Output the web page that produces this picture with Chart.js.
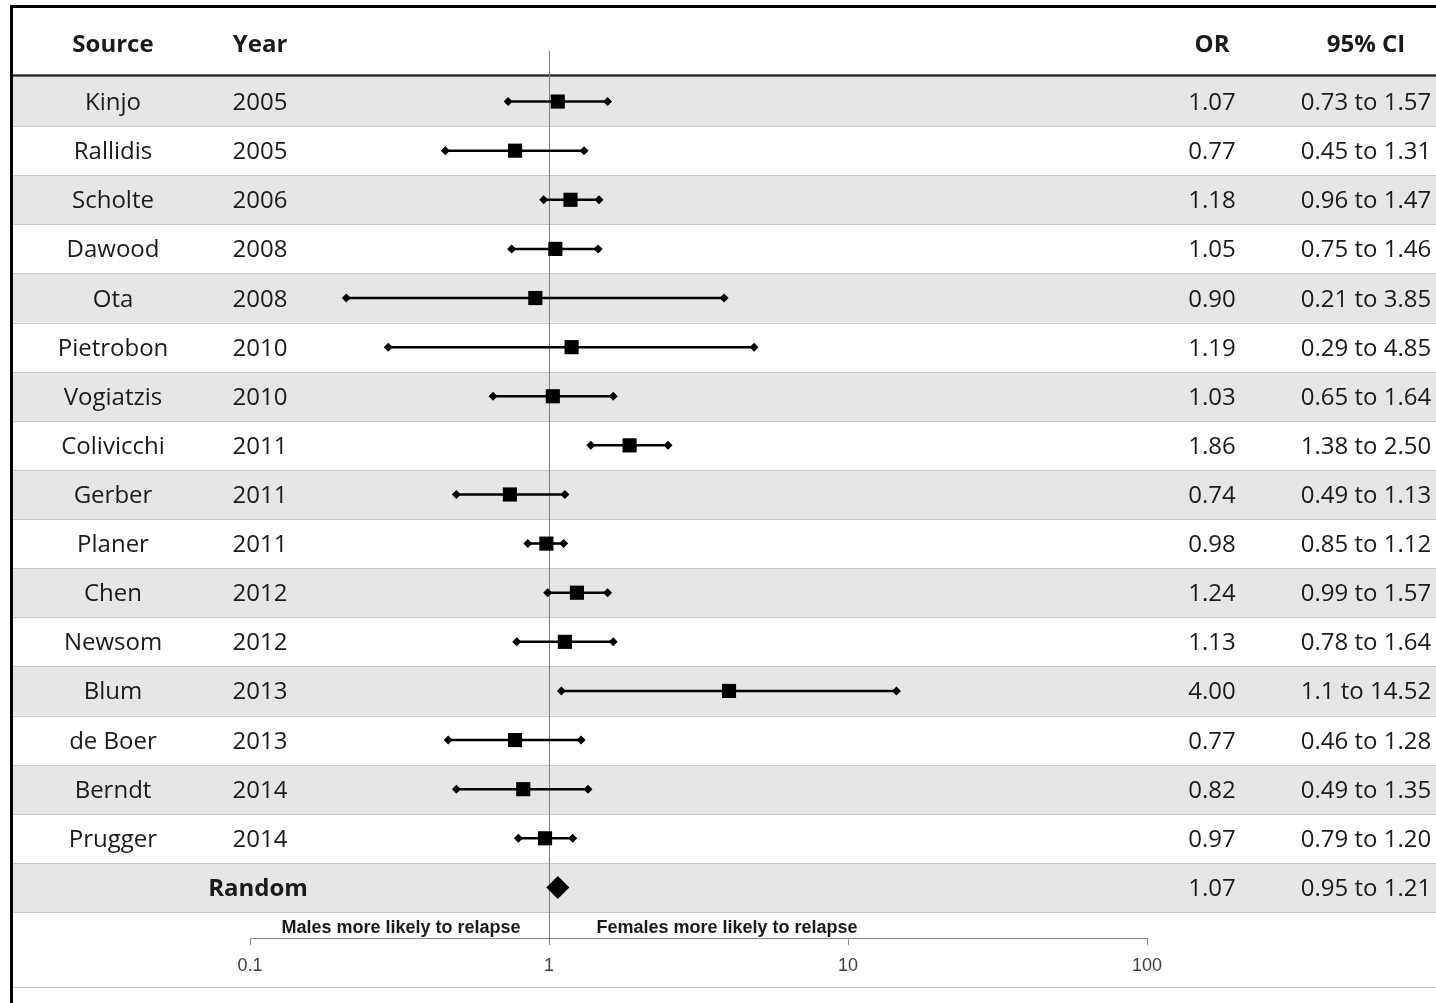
<!DOCTYPE html>
<html>
<head>
<meta charset="utf-8">
<script src="https://cdn.jsdelivr.net/npm/chart.js@4.4.0/dist/chart.umd.min.js"></script>
<style>
  html, body { margin: 0; padding: 0; background: #fff; }
  #wrap { width: 1436px; height: 1003px; }
</style>
</head>
<body>
<div id="wrap"><canvas id="forest" width="1436" height="1003"></canvas></div>
<script>
// study data
const sources = ['Kinjo', 'Rallidis', 'Scholte', 'Dawood', 'Ota', 'Pietrobon', 'Vogiatzis', 'Colivicchi',
  'Gerber', 'Planer', 'Chen', 'Newsom', 'Blum', 'de Boer', 'Berndt', 'Prugger'];
const years = [2005, 2005, 2006, 2008, 2008, 2010, 2010, 2011, 2011, 2011, 2012, 2012, 2013, 2013, 2014, 2014];
const oddsRatios = [1.07, 0.77, 1.18, 1.05, 0.90, 1.19, 1.03, 1.86, 0.74, 0.98, 1.24, 1.13, 4.00, 0.77, 0.82, 0.97];
const ciLow = [0.73, 0.45, 0.96, 0.75, 0.21, 0.29, 0.65, 1.38, 0.49, 0.85, 0.99, 0.78, 1.1, 0.46, 0.49, 0.79];
const ciHigh = [1.57, 1.31, 1.47, 1.46, 3.85, 4.85, 1.64, 2.50, 1.13, 1.12, 1.57, 1.64, 14.52, 1.28, 1.35, 1.20];
const ciLabels = ['0.73 to 1.57', '0.45 to 1.31', '0.96 to 1.47', '0.75 to 1.46', '0.21 to 3.85', '0.29 to 4.85',
  '0.65 to 1.64', '1.38 to 2.50', '0.49 to 1.13', '0.85 to 1.12', '0.99 to 1.57', '0.78 to 1.64',
  '1.1 to 14.52', '0.46 to 1.28', '0.49 to 1.35', '0.79 to 1.20'];

// pooled (random effects) estimate
const pooledLabel = 'Random';
const pooledOR = 1.07;
const pooledCI = '0.95 to 1.21';

// x axis
const tickValues = [0.1, 1, 10, 100];
const tickLabels = ['0.1', '1', '10', '100'];
const leftNote = 'Males more likely to relapse';
const rightNote = 'Females more likely to relapse';
const headers = { source: 'Source', year: 'Year', or: 'OR', ci: '95% CI' };

const rowCount = sources.length + 1;
const TABLE_FONT = '"Open Sans", "Noto Sans", sans-serif';
const ARIAL = '"Liberation Sans", Arial, sans-serif';
const COL = { source: 113, year: 260, or: 1212, ci: 1366 };

const tablePlugin = {
  id: 'forestTable',
  beforeDraw(chart) {
    const { ctx, width, height } = chart;
    const y = chart.scales.y;
    ctx.save();
    ctx.fillStyle = '#ffffff';
    ctx.fillRect(0, 0, width, height);

    // alternating row bands
    ctx.fillStyle = '#e6e6e6';
    for (let i = 0; i < rowCount; i += 2) {
      const top = y.getPixelForValue(i - 0.5);
      const bot = y.getPixelForValue(i + 0.5);
      ctx.fillRect(12, top, width - 12, bot - top);
    }
    // thin separators between rows
    ctx.strokeStyle = '#c8c8c8';
    ctx.lineWidth = 1;
    for (let i = 1; i <= rowCount; i++) {
      const py = Math.round(y.getPixelForValue(i - 0.5)) + 0.5;
      ctx.beginPath();
      ctx.moveTo(12, py);
      ctx.lineTo(width, py);
      ctx.stroke();
    }
    // bottom rule
    ctx.beginPath();
    ctx.moveTo(12, 987.5);
    ctx.lineTo(width, 987.5);
    ctx.stroke();

    // header rule
    ctx.fillStyle = '#6b6b6b';
    ctx.fillRect(12, 74, width - 12, 3);
    ctx.fillStyle = '#2a2a2a';
    ctx.fillRect(12, 75, width - 12, 1);
    ctx.restore();
  },
  beforeDatasetsDraw(chart) {
    const { ctx } = chart;
    const px = Math.round(chart.scales.x.getPixelForValue(1)) + 0.5;
    ctx.save();
    ctx.strokeStyle = '#7f7f7f';
    ctx.lineWidth = 1;
    ctx.beginPath();
    ctx.moveTo(px, 51);
    ctx.lineTo(px, 945);
    ctx.stroke();
    ctx.restore();
  },
  afterDraw(chart) {
    const { ctx, width, height } = chart;
    const y = chart.scales.y;
    ctx.save();
    ctx.fillStyle = '#1a1a1a';
    ctx.textAlign = 'center';
    ctx.textBaseline = 'alphabetic';

    // headers
    ctx.font = 'bold 24px ' + TABLE_FONT;
    ctx.fillText(headers.source, COL.source, 52);
    ctx.fillText(headers.year, COL.year, 52);
    ctx.fillText(headers.or, COL.or, 52);
    ctx.fillText(headers.ci, COL.ci, 52);

    // study rows
    ctx.font = '24px ' + TABLE_FONT;
    sources.forEach((name, i) => {
      const base = y.getPixelForValue(i) + 8.5;
      ctx.fillText(name, COL.source, base);
      ctx.fillText(String(years[i]), COL.year, base);
      ctx.fillText(oddsRatios[i].toFixed(2), COL.or, base);
      ctx.fillText(ciLabels[i], COL.ci, base);
    });

    // pooled row
    const pBase = y.getPixelForValue(sources.length) + 8.5;
    ctx.fillText(pooledOR.toFixed(2), COL.or, pBase);
    ctx.fillText(pooledCI, COL.ci, pBase);
    ctx.font = 'bold 24px ' + TABLE_FONT;
    ctx.fillText(pooledLabel, 258, pBase);

    // direction notes above the axis
    ctx.font = 'bold 18px ' + ARIAL;
    ctx.fillText(leftNote, 401, 933);
    ctx.fillText(rightNote, 727, 933);

    // outer frame
    ctx.fillStyle = '#000000';
    ctx.fillRect(10, 5, width - 10, 3);
    ctx.fillRect(10, 5, 3, height - 5);
    ctx.restore();
  }
};

// whiskers: one small line dataset per study
const ciDatasets = sources.map((name, i) => ({
  label: name,
  showLine: true,
  data: [{ x: ciLow[i], y: i }, { x: ciHigh[i], y: i }],
  borderColor: '#000',
  borderWidth: 2.5,
  pointStyle: 'rectRot',
  pointRadius: 4.5,
  pointBackgroundColor: '#000',
  pointBorderWidth: 0,
  order: 2
}));

const orDataset = {
  label: 'OR',
  data: oddsRatios.map((v, i) => ({ x: v, y: i })),
  pointStyle: 'rect',
  pointRadius: 10,
  pointBackgroundColor: '#000',
  pointBorderColor: '#000',
  pointBorderWidth: 0,
  order: 1
};

const pooledDataset = {
  label: pooledLabel,
  data: [{ x: pooledOR, y: sources.length }],
  pointStyle: 'rectRot',
  pointRadius: 11.5,
  pointBackgroundColor: '#000',
  pointBorderWidth: 0,
  order: 1
};

const ctx = document.getElementById('forest').getContext('2d');
const forestChart = new Chart(ctx, {
  type: 'scatter',
  data: { datasets: [...ciDatasets, orDataset, pooledDataset] },
  options: {
    responsive: false,
    devicePixelRatio: 1,
    animation: false,
    events: [],
    layout: { padding: { left: 250, right: 289, top: 77, bottom: 0 } },
    plugins: {
      legend: { display: false },
      tooltip: { enabled: false }
    },
    scales: {
      x: {
        type: 'logarithmic',
        min: 0.1,
        max: 100,
        afterBuildTicks: (scale) => { scale.ticks = tickValues.map(v => ({ value: v })); },
        afterFit: (scale) => { scale.height = 65; },
        border: { display: true, color: '#8c8c8c', width: 1 },
        grid: { drawOnChartArea: false, drawTicks: true, tickLength: 7, color: '#8c8c8c' },
        ticks: {
          callback: (value, index) => tickLabels[index],
          color: '#404040',
          font: { family: ARIAL, size: 18 },
          padding: 10,
          maxRotation: 0,
          autoSkip: false
        }
      },
      y: {
        type: 'linear',
        reverse: true,
        min: -0.5,
        max: 17.03,
        display: false
      }
    }
  },
  plugins: [tablePlugin]
});
</script>
</body>
</html>
